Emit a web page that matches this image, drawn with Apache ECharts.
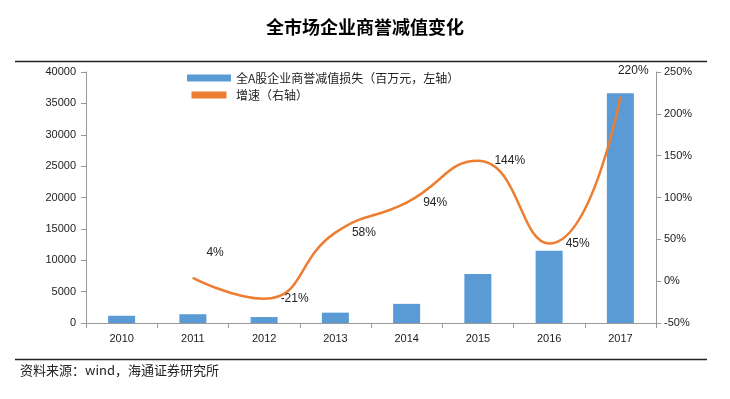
<!DOCTYPE html>
<html><head><meta charset="utf-8">
<script src="https://cdn.jsdelivr.net/npm/echarts@6/dist/echarts.min.js"></script>
<style>html,body{margin:0;padding:0;background:#fff}#c{width:730px;height:399px}</style>
</head><body><div id="c"></div>
<script>
const years = ['2010','2011','2012','2013','2014','2015','2016','2017'];
const impairment = [1150, 1400, 950, 1650, 3050, 7800, 11500, 36600];
const growth = [null, 4, -21, 58, 94, 144, 45, 220];
const leftTicks = [0, 5000, 10000, 15000, 20000, 25000, 30000, 35000, 40000];
const rightTicks = [-50, 0, 50, 100, 150, 200, 250];

const font = '"Liberation Sans", Arial, sans-serif';
const cjk = '"Noto Sans CJK SC", sans-serif';
const chart = echarts.init(document.getElementById('c'));
chart.setOption({
  animation: false,
  title: {text: '全市场企业商誉减值变化', left: 'center', top: 13,
    textStyle: {fontFamily: cjk, fontSize: 18, fontWeight: 'bold', color: '#000'}},
  legend: {
    left: 182, top: 67, orient: 'vertical', itemGap: 5, itemWidth: 44, itemHeight: 7,
    textStyle: {fontFamily: cjk, fontSize: 12, color: '#222'},
    data: [
      {name: '全A股企业商誉减值损失（百万元，左轴）', icon: 'rect'},
      {name: '增速（右轴）', icon: 'path://M0,0 L10,0 L10,2 L0,2 Z'}
    ]
  },
  graphic: [
    {type: 'line', shape: {x1: 15, y1: 61.5, x2: 707, y2: 61.5}, style: {stroke: '#222', lineWidth: 1.5}},
    {type: 'line', shape: {x1: 15, y1: 359.5, x2: 707, y2: 359.5}, style: {stroke: '#222', lineWidth: 1.5}},
    {type: 'text', left: 20, top: 364, style: {text: '资料来源：wind，海通证券研究所', font: '13px ' + cjk, fill: '#222'}}
  ],
  grid: {left: 86, right: 74, top: 72, bottom: 76},
  xAxis: {
    type: 'category', data: years,
    axisLine: {lineStyle: {color: '#999'}},
    axisTick: {show: true, alignWithLabel: false, length: 5, lineStyle: {color: '#999'}},
    axisLabel: {fontFamily: font, fontSize: 11, color: '#222', margin: 10}
  },
  yAxis: [
    {type: 'value', min: leftTicks[0], max: leftTicks[leftTicks.length-1], interval: 5000,
      axisLine: {show: true, lineStyle: {color: '#999'}},
      axisTick: {show: true, length: 5, lineStyle: {color: '#999'}},
      splitLine: {show: false},
      axisLabel: {fontFamily: font, fontSize: 11, color: '#222', margin: 10, formatter: v => String(v)}},
    {type: 'value', min: rightTicks[0], max: rightTicks[rightTicks.length-1], interval: 50,
      axisLine: {show: true, lineStyle: {color: '#999'}},
      axisTick: {show: true, length: 5, lineStyle: {color: '#999'}},
      splitLine: {show: false},
      axisLabel: {fontFamily: font, fontSize: 11, color: '#222', margin: 8, formatter: v => v + '%'}}
  ],
  series: [
    {name: '全A股企业商誉减值损失（百万元，左轴）', type: 'bar', data: impairment, barWidth: 27,
      itemStyle: {color: '#5B9BD5'}},
    {name: '增速（右轴）', type: 'line', yAxisIndex: 1, data: growth, smooth: 0.5,
      symbol: 'circle', symbolSize: 1, showSymbol: true, connectNulls: false,
      lineStyle: {color: '#ED7D31', width: 2.5}, itemStyle: {color: '#ED7D31'},
      label: {show: true, position: 'right', distance: 16, formatter: p => p.value + '%',
        fontFamily: font, fontSize: 12, color: '#222'},
      labelLayout: function(p){
        if (p.dataIndex === 1) return {dx: -3, dy: -25};
        if (p.dataIndex === 7) return {dx: -19, dy: -26};
        return {};
      }}
  ]
});
</script></body></html>
